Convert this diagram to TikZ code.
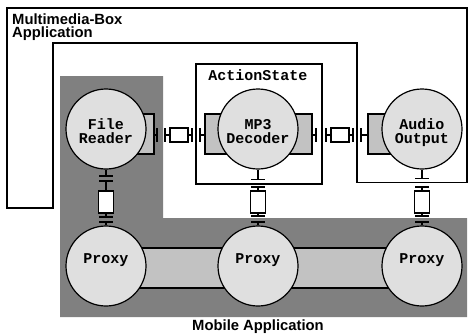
\documentclass[tikz,border=0pt]{standalone}
\usepackage{fontspec}
\setmainfont{Liberation Sans}
\setmonofont{Liberation Mono}
\definecolor{compgrey}{HTML}{DFDFDF}
\definecolor{portgrey}{HTML}{C2C2C2}
\definecolor{regiongrey}{HTML}{808080}
\tikzset{
  frameline/.style={draw, line width=1.2pt},
  comp/.style={circle, draw, line width=1.2pt, fill=compgrey, minimum size=80pt, inner sep=0pt},
  portbox/.style={draw, line width=1.2pt, fill=portgrey},
  lbl/.style={font=\ttfamily\bfseries\fontsize{15}{14}\selectfont, inner sep=0pt},
  ttl/.style={font=\bfseries\fontsize{14.8}{13.5}\selectfont, inner sep=0pt},
  wire/.style={line width=1.2pt},
  bar/.style={line width=1.5pt},
  cboxh/.style={draw, line width=1.2pt, fill=white, inner sep=0pt, minimum width=18pt, minimum height=14pt},
  cboxv/.style={draw, line width=1.2pt, fill=white, inner sep=0pt, minimum width=15pt, minimum height=22pt}
}
\begin{document}
\begin{tikzpicture}[x=1pt,y=-1pt]
\useasboundingbox (0,0) rectangle (469,335);
% mobile application region
\fill[regiongrey] (60,76) -- (163,76) -- (163,218) -- (467,218) -- (467,317) -- (60,317) -- cycle;
% multimedia-box application frame
\draw[frameline] (7,8) -- (467,8) -- (467,182.5) -- (357,182.5) -- (357,43) -- (53,43) -- (53,208) -- (7,208) -- cycle;
% ActionState box
\draw[frameline] (196,64) rectangle (322,184);
% proxy links
\draw[portbox] (106,248) rectangle (258,288);
\draw[portbox] (258,248) rectangle (422,288);
% ports
\draw[portbox] (128,114) rectangle (154,154);
\draw[portbox] (205,114) rectangle (236,154);
\draw[portbox] (281,114) rectangle (312,154);
\draw[portbox] (368,114) rectangle (400,154);
\coordinate (p1) at (154,135);
\coordinate (p2) at (205,135);
\coordinate (p3) at (312,135);
\coordinate (p4) at (368,135);
% components
\node[comp] (fr) at (106,129) {};
\node[comp] (mp) at (258,129) {};
\node[comp] (ao) at (422,129) {};
\node[comp] (px1) at (106,266) {};
\node[comp] (px2) at (258,266) {};
\node[comp] (px3) at (422,266) {};
% horizontal connector 1
\node[cboxh] (c1) at (179,135) {};
\draw[wire] (p1) -- (157,135);
\draw[bar] (157,128) -- (157,142);
\draw[bar] (165,128) -- (165,142);
\draw[wire] (165,135) -- (c1.west);
\draw[wire] (c1.east) -- (192,135);
\draw[bar] (192,128) -- (192,142);
\draw[bar] (200,128) -- (200,142);
\draw[wire] (200,135) -- (p2);
% horizontal connector 2
\node[cboxh] (c2) at (340,135) {};
\draw[wire] (p3) -- (316,135);
\draw[bar] (316,128) -- (316,142);
\draw[bar] (326,128) -- (326,142);
\draw[wire] (326,135) -- (c2.west);
\draw[wire] (c2.east) -- (353,135);
\draw[bar] (353,128) -- (353,142);
\draw[bar] (361,128) -- (361,142);
\draw[wire] (361,135) -- (p4);
% vertical connector FR - proxy
\node[cboxv] (v1) at (106,202) {};
\draw[wire] (fr.south) -- (106,176);
\draw[bar] (99,176) -- (113,176);
\draw[bar] (99,181) -- (113,181);
\draw[wire] (106,181) -- (v1.north);
\draw[wire] (v1.south) -- (106,217);
\draw[bar] (99,217) -- (113,217);
\draw[bar] (99,222) -- (113,222);
\draw[wire] (106,222) -- (px1.north);
% vertical connector MP3 - proxy
\node[cboxv] (v2) at (258,202) {};
\draw[wire] (mp.south) -- (258,179.5);
\draw[bar] (251,179.5) -- (265,179.5);
\draw[bar] (251,187) -- (265,187);
\draw[wire] (258,187) -- (v2.north);
\draw[wire] (v2.south) -- (258,216);
\draw[bar] (251,216) -- (265,216);
\draw[bar] (251,222) -- (265,222);
\draw[wire] (258,222) -- (px2.north);
% vertical connector Audio - proxy
\node[cboxv] (v3) at (422,202) {};
\draw[wire] (ao.south) -- (422,178.5);
\draw[bar] (415,178.5) -- (429,178.5);
\draw[bar] (415,187) -- (429,187);
\draw[wire] (422,187) -- (v3.north);
\draw[wire] (v3.south) -- (422,216);
\draw[bar] (415,216) -- (429,216);
\draw[bar] (415,222) -- (429,222);
\draw[wire] (422,222) -- (px3.north);
% labels
\node[lbl, anchor=base] (l1a) at (106,129) {File};
\node[lbl, anchor=base] (l1b) at (106,143) {Reader};
\node[lbl, anchor=base] (l2a) at (258,129) {MP3};
\node[lbl, anchor=base] (l2b) at (258,143) {Decoder};
\node[lbl, anchor=base] (l3a) at (422,129) {Audio};
\node[lbl, anchor=base] (l3b) at (422,143) {Output};
\node[lbl, anchor=base] (lp1) at (106,263) {Proxy};
\node[lbl, anchor=base] (lp2) at (258,263) {Proxy};
\node[lbl, anchor=base] (lp3) at (422,263) {Proxy};
\node[lbl, anchor=base] (las) at (258,80) {ActionState};
\node[ttl, anchor=base west] (t1) at (12,24) {Multimedia-Box};
\node[ttl, anchor=base west] (t2) at (12,37.5) {Application};
\node[ttl, anchor=base] (t3) at (258,330) {Mobile Application};
\end{tikzpicture}
\end{document}
